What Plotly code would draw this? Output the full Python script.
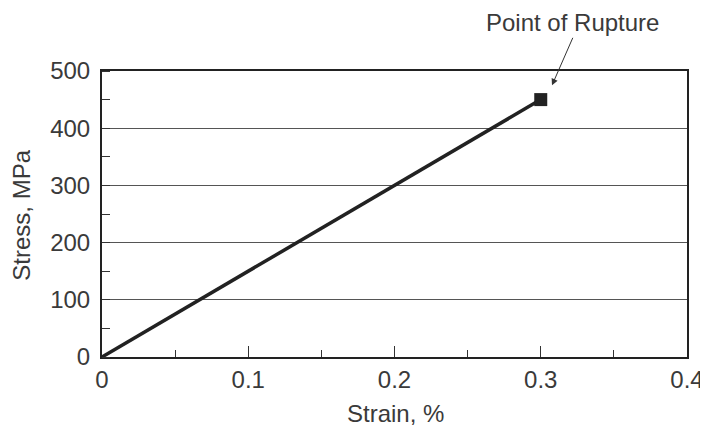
import plotly.graph_objects as go

strain = [0.0, 0.3]
stress = [0, 450]
rupture_strain = [0.3]
rupture_stress = [450]
x_ticks = [0, 0.1, 0.2, 0.3, 0.4]
x_labels = ["0", "0.1", "0.2", "0.3", "0.4"]
y_ticks = [0, 100, 200, 300, 400, 500]

font = dict(family="Liberation Sans, Arial, Helvetica", size=24, color="#3a3a3a")

fig = go.Figure()
fig.add_trace(go.Scatter(x=strain, y=stress, mode="lines",
                         line=dict(color="#222222", width=3.5), showlegend=False))
fig.add_trace(go.Scatter(x=rupture_strain, y=rupture_stress, mode="markers",
                         marker=dict(symbol="square", size=13, color="#222222"),
                         showlegend=False))

fig.add_annotation(x=0.3077, y=475, xref="x", yref="y", text="",
                   font=dict(size=1), borderpad=0,
                   showarrow=True, ax=21, ay=-48, arrowhead=2, arrowsize=1.3,
                   arrowwidth=1, arrowcolor="#333333")
fig.add_annotation(x=0.805, y=1.171, xref="paper", yref="paper",
                   text="Point of Rupture", showarrow=False, font=font,
                   xanchor="center", yanchor="middle")
# axis titles
fig.add_annotation(x=0.501, y=-0.196, xref="paper", yref="paper",
                   text="Strain, %", showarrow=False, font=font,
                   xanchor="center", yanchor="middle")
fig.add_annotation(x=-0.137, y=0.497, xref="paper", yref="paper",
                   text="Stress, MPa", showarrow=False, font=font, textangle=-90,
                   xanchor="center", yanchor="middle")

fig.update_layout(
    width=700, height=422,
    margin=dict(l=94, r=21, t=63, b=73),
    paper_bgcolor="white", plot_bgcolor="white",
    font=font,
    xaxis=dict(range=[0, 0.4], tickvals=x_ticks, ticktext=x_labels,
               automargin=False,
               showgrid=False, zeroline=False, showline=True, mirror=True,
               linecolor="#222222", linewidth=2,
               ticks="inside", ticklen=11, tickwidth=1, tickcolor="#333333",
               minor=dict(dtick=0.05, ticks="inside", ticklen=7, tickwidth=1,
                          tickcolor="#333333", showgrid=False)),
    yaxis=dict(range=[0, 500], tickvals=y_ticks, automargin=False,
               ticklabelstandoff=5,
               showgrid=True, gridcolor="#555555", gridwidth=1,
               zeroline=False, showline=True, mirror=True,
               linecolor="#222222", linewidth=2,
               ticks="",
               minor=dict(dtick=50, ticks="inside", ticklen=8, tickwidth=1,
                          tickcolor="#333333", showgrid=False)),
)

fig.write_html("out.html")
